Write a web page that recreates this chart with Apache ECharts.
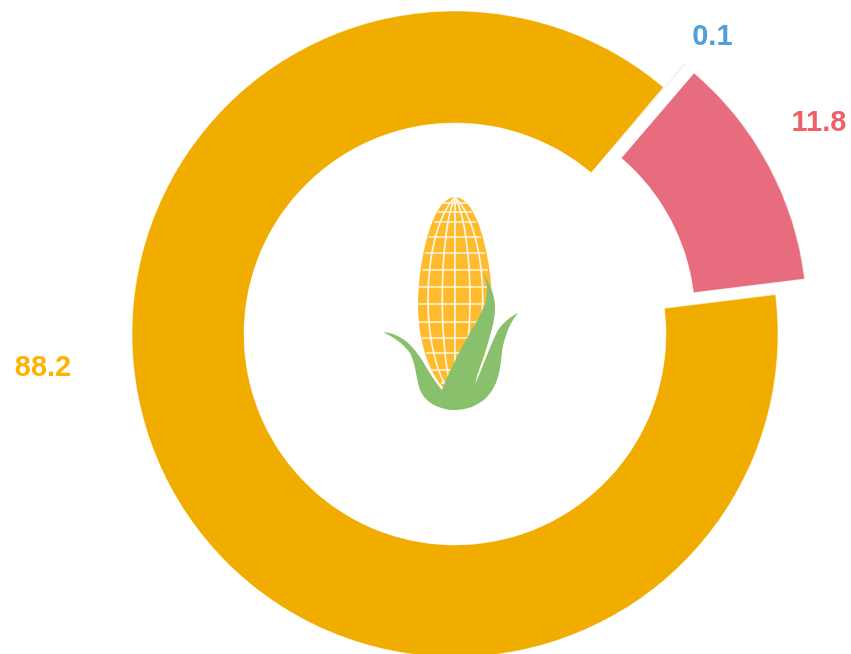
<!DOCTYPE html>
<html><head><meta charset="utf-8">
<style>html,body{margin:0;padding:0;background:#fff}#c{width:851px;height:654px}</style>
<script src="https://cdn.jsdelivr.net/npm/echarts@6/dist/echarts.min.js"></script>
</head><body><div id="c"></div>
<script>
const categories = ['Blue', 'Red', 'Gold'];
const values = [0.1, 11.8, 88.2];
const valueLabels = ['0.1', '11.8', '88.2'];
const sliceColors = ['#eef1f2', '#e76c7e', '#f0ad00'];
const labelColors = ['#4f9fdb', '#ee5f66', '#ffb300'];
const explodedFlags = [true, true, false];
const labelAnchors = [[718, 36], [819, 121], [43, 368]];
const labelPaddings = [[0, 36, 28, 0], [0, 0, 72, 4], [0, 0, 0, 0]];

const cornLatitudes = [203, 212, 222, 237, 253, 270, 287, 304, 322, 338, 353, 370, 383];
const cornHalfWidths = [12, 17, 21, 26, 30, 33, 36, 37, 36, 33, 29, 23, 14];
const cornMeridianControls = [419, 438, 455, 475, 492];

const bodyPath = 'M455,197 C478,197 492,262 492,305 C492,345 478,385 455,397 C432,385 418,345 418,305 C418,262 432,197 455,197 Z';
const leafPath = 'M383,332 C398,333 410,342 420,357 C428,370 435,382 442,390 C449,372 460,350 470,333 C478,320 487,305 487,290 C487,283 485,278 483,273 C490,283 496,297 495,312 C493,335 480,363 475,384 C482,370 488,350 498,330 C504,322 510,317 518,313 C510,322 504,338 502,352 C500,372 498,385 487,397 C478,406 466,410 455,410 C438,410 425,402 420,390 C416,378 416,365 410,353 C403,343 393,337 383,332 Z';

echarts.graphic.registerShape('cornBody', echarts.graphic.extendPath(bodyPath, {}));
echarts.graphic.registerShape('cornLeaf', echarts.graphic.extendPath(leafPath, {}));

const chart = echarts.init(document.getElementById('c'), null, {renderer: 'canvas'});
const gridLines = [];
cornLatitudes.forEach((y, i) => gridLines.push({
  type: 'line', shape: {x1: 455 - cornHalfWidths[i], y1: y, x2: 455 + cornHalfWidths[i], y2: y},
  style: {stroke: '#fff6e2', lineWidth: 1.7}
}));
cornMeridianControls.forEach(c => gridLines.push({
  type: 'bezierCurve', shape: {x1: 455, y1: 197, x2: 455, y2: 397, cpx1: c, cpy1: 235, cpx2: c, cpy2: 365},
  style: {fill: null, stroke: '#fff6e2', lineWidth: 1.7}
}));

const labelFont = {
  fontFamily: '"Liberation Sans", Arial, sans-serif',
  fontWeight: 'bold', fontSize: 29
};

chart.setOption({
  animation: false,
  backgroundColor: '#ffffff',
  series: [{
    type: 'pie',
    center: [455, 334],
    radius: [211, 323],
    startAngle: 49.8,
    clockwise: true,
    avoidLabelOverlap: false,
    selectedMode: 'multiple',
    selectedOffset: 33,
    emphasis: {disabled: true},
    labelLine: {show: false},
    label: Object.assign({show: true, position: 'outside'}, labelFont),
    labelLayout: function (p) {
      const a = labelAnchors[p.dataIndex];
      return {x: a[0], y: a[1], align: 'center', verticalAlign: 'middle'};
    },
    data: categories.map((name, i) => ({
      name, value: values[i], selected: explodedFlags[i],
      itemStyle: {color: sliceColors[i], borderColor: '#fff', borderWidth: 0.5},
      label: {
        formatter: '{v|' + valueLabels[i] + '}',
        color: labelColors[i],
        padding: labelPaddings[i],
        rich: {v: Object.assign({color: labelColors[i]}, labelFont)}
      }
    }))
  }],
  graphic: [{
    type: 'group', z: 10, silent: true,
    children: [
      {type: 'cornBody', style: {fill: '#fdbb2d'}},
      {type: 'group', children: gridLines},
      {type: 'cornLeaf', style: {fill: '#88c06b'}}
    ]
  }]
});
</script></body></html>
